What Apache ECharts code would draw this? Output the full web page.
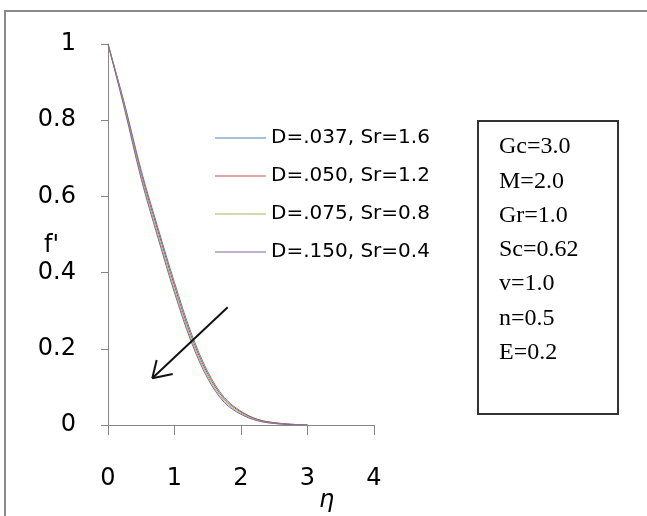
<!DOCTYPE html>
<html>
<head>
<meta charset="utf-8">
<script src="https://cdn.jsdelivr.net/npm/echarts@6/dist/echarts.min.js"></script>
<style>
    html, body {margin: 0; padding: 0; background: #fff;}
    #main {width: 647px; height: 516px;}
</style>
</head>
<body>
<div id="main"></div>
<script>
// eta values (x axis)
var eta = [0, 0.25, 0.5, 0.75, 1.0, 1.25, 1.5, 1.75, 2.0, 2.25, 2.5, 2.75, 3.0];
// f' for each D / Sr pair
var fD037 = [1, 0.842, 0.668, 0.518, 0.374, 0.242, 0.140, 0.072, 0.036, 0.015, 0.006, 0.002, 0];
var fD050 = [1, 0.838, 0.660, 0.510, 0.365, 0.234, 0.134, 0.068, 0.034, 0.014, 0.006, 0.002, 0];
var fD075 = [1, 0.833, 0.652, 0.500, 0.355, 0.226, 0.128, 0.063, 0.031, 0.012, 0.004, 0.001, 0];
var fD150 = [1, 0.828, 0.645, 0.492, 0.347, 0.219, 0.122, 0.059, 0.028, 0.011, 0.004, 0.001, 0];
var seriesNames = ["D=.037, Sr=1.6", "D=.050, Sr=1.2", "D=.075, Sr=0.8", "D=.150, Sr=0.4"];
var seriesColors = ["#4F81BD", "#C0504D", "#9BBB59", "#8064A2"];
// parameter box text
var params = ["Gc=3.0", "M=2.0", "Gr=1.0", "Sc=0.62", "v=1.0", "n=0.5", "E=0.2"];
// arrow (data coords): shaft + two head strokes
var arrowSegs = [
    [[1.80, 0.309], [0.666, 0.1226]],
    [[0.666, 0.1226], [0.732, 0.1706]],
    [[0.666, 0.1226], [0.973, 0.1339]]
];

var chart = echarts.init(document.getElementById('main'));

function pairUp(ys) {
    var out = [];
    for (var i = 0; i < eta.length; i++) {
        out.push([eta[i], ys[i]]);
    }
    return out;
}

var allData = [fD037, fD050, fD075, fD150];
var series = [];
allData.forEach(function (d, i) {
    series.push({
        name: seriesNames[i],
        type: 'line',
        data: pairUp(d),
        smooth: 0.35,
        symbol: 'none',
        showSymbol: false,
        lineStyle: {width: 1, color: seriesColors[i]},
        itemStyle: {color: seriesColors[i]},
        animation: false
    });
});
series[0].markLine = {
    silent: true,
    symbol: ['none', 'none'],
    label: {show: false},
    lineStyle: {color: '#111', width: 2, type: 'solid'},
    data: arrowSegs.map(function (s) {
        return [{coord: s[0]}, {coord: s[1]}];
    }),
    animation: false
};

var boxItems = [{
    type: 'rect',
    shape: {x: 478, y: 121, width: 140, height: 293},
    style: {fill: '#fff', stroke: '#333', lineWidth: 2}
}];
params.forEach(function (p, i) {
    boxItems.push({
        type: 'text',
        left: 499,
        top: 147 + i * 34.3 - 12,
        style: {text: p, font: '24px "Liberation Serif"', fill: '#000'}
    });
});

var option = {
    backgroundColor: '#fff',
    animation: false,
    grid: {left: 108, top: 44, width: 266, height: 381, containLabel: false},
    legend: {
        orient: 'vertical',
        left: 210,
        top: 123,
        icon: 'rect',
        itemWidth: 51,
        itemHeight: 1,
        itemGap: 18,
        data: seriesNames,
        textStyle: {fontFamily: 'DejaVu Sans', fontSize: 20, color: '#000', lineHeight: 20}
    },
    xAxis: {
        type: 'value',
        min: 0,
        max: 4,
        interval: 1,
        axisLine: {lineStyle: {color: '#868686', width: 1}},
        axisTick: {show: true, length: 10, lineStyle: {color: '#868686'}},
        splitLine: {show: false},
        axisLabel: {margin: 42, fontFamily: 'DejaVu Sans', fontSize: 24, color: '#000'}
    },
    yAxis: {
        type: 'value',
        min: 0,
        max: 1,
        interval: 0.2,
        axisLine: {show: true, lineStyle: {color: '#868686', width: 1}},
        axisTick: {show: true, length: 7, lineStyle: {color: '#868686'}},
        splitLine: {show: false},
        axisLabel: {margin: 32, fontFamily: 'DejaVu Sans', fontSize: 24, color: '#000'}
    },
    graphic: [
        {
            type: 'rect',
            shape: {x: 5, y: 11, width: 700, height: 600},
            style: {fill: 'none', stroke: '#8a8a8a', lineWidth: 2},
            silent: true
        },
        {
            type: 'text',
            left: 44,
            top: 234,
            style: {text: "f'", font: '24px "DejaVu Sans"', fill: '#000'}
        },
        {
            type: 'text',
            left: 319,
            top: 489,
            style: {text: 'η', font: 'italic 24px "DejaVu Sans"', fill: '#000'}
        },
        {
            type: 'group',
            children: boxItems
        }
    ],
    series: series
};
chart.setOption(option);
</script>
</body>
</html>
